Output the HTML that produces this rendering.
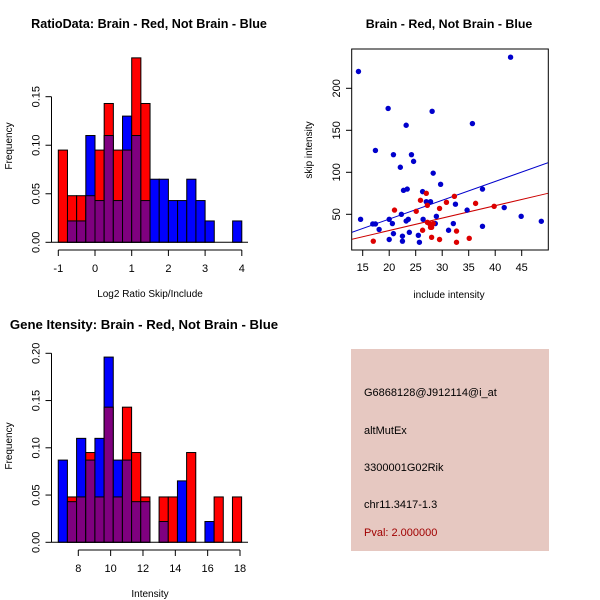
<!DOCTYPE html>
<html><head><meta charset="utf-8"><style>
body{margin:0;background:#fff}
svg{display:block;font-family:"Liberation Sans",sans-serif}
</style></head><body>
<svg id="s" width="600" height="600">
<rect width="600" height="600" fill="#fff"/>
<g>
<rect x="351" y="349" width="198" height="202" fill="#e6c8c1"/>
<text x="364" y="396" font-size="11" fill="#000">G6868128@J912114@i_at</text>
<text x="364" y="434" font-size="11" fill="#000">altMutEx</text>
<text x="364" y="471" font-size="11" fill="#000">3300001G02Rik</text>
<text x="364" y="508" font-size="11" fill="#000">chr11.3417-1.3</text>
<text x="364" y="536" font-size="11" fill="#a00000">Pval: 2.000000</text>
</g>
</svg>
<script>
// Histogram 1: log2 ratio
const h1Breaks0 = -1, h1BinW = 0.25;
const h1Red = [0.095,0.048,0.048,0.048,0.095,0.143,0.095,0.095,0.19,0.143,0,0,0,0,0,0,0,0,0,0];
const h1Blue = [0,0.022,0.022,0.11,0.043,0.11,0.043,0.13,0.11,0.043,0.065,0.065,0.043,0.043,0.065,0.043,0.022,0,0,0.022];
const h1XTicks = [-1,0,1,2,3,4];
const h1YTicks = [0,0.05,0.10,0.15];
const h1YLabels = ["0.00","0.05","0.10","0.15"];
// Histogram 2: intensity
const h2Breaks0 = 6.76, h2BinW = 0.567;
const h2Red = [0,0.048,0.048,0.095,0.048,0.143,0.048,0.143,0.095,0.048,0,0.048,0.048,0,0.095,0,0,0.048,0,0.048];
const h2Blue = [0.087,0.043,0.11,0.087,0.11,0.196,0.087,0.087,0.043,0.043,0,0.022,0,0.065,0,0,0.022,0,0,0];
const h2XTicks = [8,10,12,14,16,18];
const h2YTicks = [0,0.05,0.10,0.15,0.20];
const h2YLabels = ["0.00","0.05","0.10","0.15","0.20"];
// Scatter
const blueX = [14.2,14.6,16.9,17.4,17.4,18.1,19.8,20.0,20.0,20.6,20.8,20.8,22.1,22.3,22.5,22.5,22.7,23.2,23.2,23.4,23.6,23.8,24.2,24.6,25.5,25.7,26.3,26.4,27.0,27.8,28.1,28.3,28.7,28.9,29.7,31.2,32.1,32.5,34.7,35.7,37.6,37.6,41.7,42.9,44.9,48.7];
const blueY = [220,44,38.5,38.5,126,32,176,44,20,39,27,121,106,50,24,18,78.5,156,42,80,44,28.5,121,113,25,16.7,77,44,65,65,172.6,99,39,47.6,85.7,31,39,62,55,158,80,35.7,58,237,47.6,41.7];
const redX = [17.0,21.0,25.1,25.9,26.3,27.0,27.2,27.2,27.6,27.8,28.0,28.0,28.3,29.5,29.5,30.8,32.3,32.7,32.7,35.1,36.3,39.8];
const redY = [18,55,53.6,66.7,31,75,60.7,40.5,39,34.5,34.5,22.6,39,57,20,64.3,71.4,30,16.7,21.4,63,59.5];
const blueLine = [12.98,28.6,49.96,111.4];
const redLine = [12.98,20.3,49.96,75];
const scXTicks = [15,20,25,30,35,40,45];
const scYTicks = [50,100,150,200];

const NS="http://www.w3.org/2000/svg";
const svg=document.getElementById('s');
function el(t,a,p){const e=document.createElementNS(NS,t);for(const k in a)e.setAttribute(k,a[k]);(p||svg).appendChild(e);return e;}
function txt(x,y,s,size,extra,p){const e=el('text',Object.assign({x:x,y:y,'font-size':size,'text-anchor':'middle',fill:'#000'},extra||{}),p);e.textContent=s;return e;}

function hist(cfg){
  const g=el('g',{});
  
  
  const sx=v=>cfg.x0px+(v-cfg.x0v)*cfg.xs;
  const sy=v=>cfg.y0px-v*cfg.ys;
  for(let i=0;i<cfg.red.length;i++){
    const l=sx(cfg.b0+i*cfg.bw), r=sx(cfg.b0+(i+1)*cfg.bw);
    const R=cfg.red[i],B=cfg.blue[i];
    const hi=Math.max(R,B), lo=Math.min(R,B);
    if(hi>0){
      const b=el('rect',{x:l,y:sy(hi),width:r-l,height:sy(0)-sy(hi),fill:R>=B?'#ff0000':'#0000ff',stroke:'#000','stroke-width':1},g);
      
      
    }
    if(lo>0){
      const b=el('rect',{x:l,y:sy(lo),width:r-l,height:sy(0)-sy(lo),fill:'#7f007f',stroke:'#000','stroke-width':1},g);
      
      
    }
  }
  const ya=el('g',{},g);
  
  
  el('line',{x1:cfg.yax,x2:cfg.yax,y1:sy(cfg.yt[0]),y2:sy(cfg.yt[cfg.yt.length-1]),stroke:'#000'},ya);
  cfg.yt.forEach((v,i)=>{
    el('line',{x1:cfg.yax-6,x2:cfg.yax,y1:sy(v),y2:sy(v),stroke:'#000'},ya);
    txt(0,0,cfg.yl[i],11,{transform:`translate(${cfg.yax-12},${sy(v)}) rotate(-90)`},ya);
  });
  const xa=el('g',{},g);
  
  
  el('line',{x1:sx(cfg.xt[0]),x2:sx(cfg.xt[cfg.xt.length-1]),y1:cfg.xay,y2:cfg.xay,stroke:'#000'},xa);
  cfg.xt.forEach(v=>{
    el('line',{x1:sx(v),x2:sx(v),y1:cfg.xay,y2:cfg.xay+6,stroke:'#000'},xa);
    txt(sx(v),cfg.xay+22,String(v),11,{},xa);
  });
  el('line',{x1:cfg.yax,x2:cfg.xax2,y1:sy(0),y2:sy(0),stroke:'#000'},g);
  const xt=txt(cfg.xlabx,cfg.xlaby,cfg.xlab,10,{},g);
  
  
  const yt=txt(0,0,'Frequency',10,{transform:`translate(12,${cfg.ylaby}) rotate(-90)`},g);
  
  
  const tt=txt(cfg.titx,cfg.tity,cfg.title,cfg.tits,{'font-weight':'bold'},g);
  
  
}
hist({name:'ratio-histogram',red:h1Red,blue:h1Blue,b0:h1Breaks0,bw:h1BinW,x0v:-1,x0px:58.3,xs:36.7,y0px:242.3,ys:970.7,
  yt:h1YTicks,yl:h1YLabels,xt:h1XTicks,yax:51.5,xay:250,xax2:248,xlab:'Log2 Ratio Skip/Include',xlabx:150,xlaby:297,ylaby:146,
  title:'RatioData: Brain - Red, Not Brain - Blue',titx:149,tity:28,tits:12.6});
hist({name:'intensity-histogram',red:h2Red,blue:h2Blue,b0:h2Breaks0,bw:h2BinW,x0v:8,x0px:78.3,xs:16.17,y0px:542.3,ys:945,
  yt:h2YTicks,yl:h2YLabels,xt:h2XTicks,yax:51.5,xay:550,xax2:248,xlab:'Intensity',xlabx:150,xlaby:597,ylaby:446,
  title:'Gene Itensity: Brain - Red, Not Brain - Blue',titx:144,tity:329,tits:13.2});

(function(){
  const g=el('g',{});
  
  
  const sx=v=>362.7+(v-15)*5.3;
  const sy=v=>214.3-(v-50)*0.84;
  const cp=el('clipPath',{id:'cp'},g);
  el('rect',{x:352,y:49,width:196,height:201},cp);
  const bl=el('line',{x1:sx(blueLine[0]),y1:sy(blueLine[1]),x2:sx(blueLine[2]),y2:sy(blueLine[3]),stroke:'#0000cc','clip-path':'url(#cp)'},g);
  
  
  const rl=el('line',{x1:sx(redLine[0]),y1:sy(redLine[1]),x2:sx(redLine[2]),y2:sy(redLine[3]),stroke:'#cc0000','clip-path':'url(#cp)'},g);
  
  
  blueX.forEach((x,i)=>{
    const c=el('circle',{cx:sx(x),cy:sy(blueY[i]),r:2.7,fill:'#0000cc'},g);
    
    
  });
  redX.forEach((x,i)=>{
    const c=el('circle',{cx:sx(x),cy:sy(redY[i]),r:2.7,fill:'#dd0000'},g);
    
    
  });
  el('rect',{x:351.7,y:49,width:196.6,height:201,fill:'none',stroke:'#000'},g);
  const xa=el('g',{},g);
  
  
  scXTicks.forEach(v=>{
    el('line',{x1:sx(v),x2:sx(v),y1:250,y2:256,stroke:'#000'},xa);
    txt(sx(v),271,String(v),11,{},xa);
  });
  const ya=el('g',{},g);
  
  
  scYTicks.forEach(v=>{
    el('line',{x1:346,x2:351.7,y1:sy(v),y2:sy(v),stroke:'#000'},ya);
    txt(0,0,String(v),11,{transform:`translate(340,${sy(v)}) rotate(-90)`},ya);
  });
  const xt=txt(449,298,'include intensity',10,{},g);
  
  
  const yt=txt(0,0,'skip intensity',10,{transform:`translate(312,150) rotate(-90)`},g);
  
  
  const tt=txt(449,28,'Brain - Red, Not Brain - Blue',12.4,{'font-weight':'bold'},g);
  
  
})();
</script>
</body></html>
